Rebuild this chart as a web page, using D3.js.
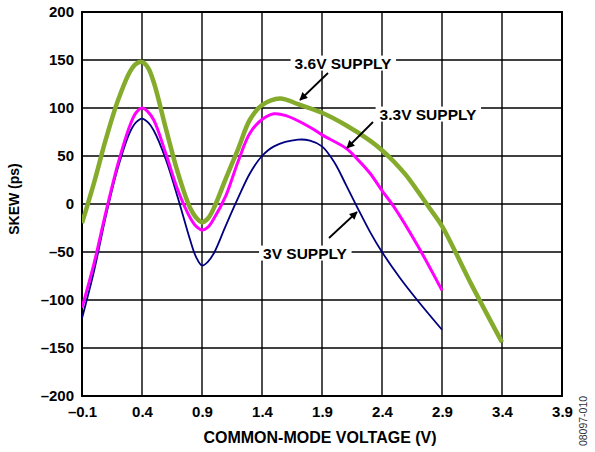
<!DOCTYPE html>
<html><head><meta charset="utf-8">
<script src="https://cdn.jsdelivr.net/npm/d3@7"></script>
<style>body{margin:0;background:#fff}svg{display:block}text{font-family:"Liberation Sans",Arial,sans-serif}</style>
</head><body>
<svg id="c" width="595" height="452"></svg>
<script>
const xTicks = [-0.1, 0.4, 0.9, 1.4, 1.9, 2.4, 2.9, 3.4, 3.9];
const yTicks = [-200, -150, -100, -50, 0, 50, 100, 150, 200];
const xTitle = "COMMON-MODE VOLTAGE (V)";
const yTitle = "SKEW (ps)";
const seriesNames = ["3V SUPPLY", "3.3V SUPPLY", "3.6V SUPPLY"];

const v3x = [-0.1,0.0,0.1,0.2,0.3,0.35,0.4,0.45,0.5,0.6,0.7,0.8,0.85,0.9,0.95,1.0,1.1,1.2,1.3,1.4,1.5,1.7,1.8,1.9,2.0,2.1,2.2,2.3,2.4,2.55,2.7,2.9];
const v3y = [-119,-70,-12,38,75,85,89,85,76,46,6,-37,-55,-64,-60,-51,-22,6,32,50,60,67,66,60,44,20,-5,-29,-50,-77,-101,-131];

const v33x = [-0.1,0.0,0.1,0.2,0.3,0.35,0.4,0.45,0.5,0.6,0.7,0.8,0.85,0.9,0.95,1.0,1.1,1.2,1.3,1.4,1.5,1.6,1.8,1.9,2.1,2.2,2.3,2.4,2.5,2.7,2.9];
const v33y = [-108,-62,-8,42,82,95,100,96,87,52,14,-14,-23,-27,-24,-15,9,44,74,88,94,92,80,72,58,46,32,14,-3,-44,-90];

const v36x = [-0.1,0.0,0.1,0.2,0.3,0.35,0.4,0.45,0.5,0.6,0.7,0.8,0.85,0.9,0.95,1.0,1.1,1.2,1.3,1.4,1.55,1.7,1.9,2.1,2.3,2.4,2.5,2.6,2.7,2.8,2.9,3.15,3.4];
const v36y = [-20,22,68,108,138,146,148,142,126,78,32,-4,-14,-19,-15,-4,27,57,88,103,110,104,95,82,66,56,44,30,13,-5,-23,-85,-144];

const svg = d3.select("#c");
const L = 82, R = 562, T = 12, B = 396;
const x = d3.scaleLinear().domain([-0.1, 3.9]).range([L, R]);
const y = d3.scaleLinear().domain([-200, 200]).range([B, T]);
const fmt = v => (v < 0 ? "\u2013" : "") + Math.abs(v);
const fmtX = v => (v < 0 ? "\u2013" : "") + Math.abs(v).toFixed(1);

const g = svg.append("g");
g.selectAll(".vx").data(xTicks).join("line")
  .attr("x1", d => x(d)).attr("x2", d => x(d)).attr("y1", T).attr("y2", B)
  .attr("stroke", "#000").attr("stroke-width", 1.4);
g.selectAll(".hy").data(yTicks).join("line")
  .attr("y1", d => y(d)).attr("y2", d => y(d)).attr("x1", L).attr("x2", R)
  .attr("stroke", "#000").attr("stroke-width", 1.4);
svg.append("rect").attr("x", L).attr("y", T).attr("width", R - L).attr("height", B - T)
  .attr("fill", "none").attr("stroke", "#000").attr("stroke-width", 2);

const ax = svg.append("g").attr("transform", `translate(0,${B})`)
  .call(d3.axisBottom(x).tickValues(xTicks).tickFormat(fmtX).tickSize(0).tickPadding(10));
ax.select(".domain").remove();
ax.selectAll("text").attr("font-size", 15).attr("font-weight", "bold").attr("fill", "#000")
  .attr("font-family", '"Liberation Sans",Arial,sans-serif');
const ay = svg.append("g").attr("transform", `translate(${L},0)`)
  .call(d3.axisLeft(y).tickValues(yTicks).tickFormat(fmt).tickSize(0).tickPadding(8));
ay.select(".domain").remove();
ay.selectAll("text").attr("font-size", 15).attr("font-weight", "bold").attr("fill", "#000")
  .attr("font-family", '"Liberation Sans",Arial,sans-serif');

svg.append("text").attr("x", 320).attr("y", 443).attr("text-anchor", "middle")
  .attr("font-size", 16).attr("font-weight", "bold").text(xTitle);
svg.append("text").attr("transform", "translate(19,199) rotate(-90)").attr("text-anchor", "middle")
  .attr("font-size", 14).attr("font-weight", "bold").text(yTitle);
svg.append("text").attr("transform", "translate(587,421) rotate(-90)").attr("text-anchor", "middle")
  .attr("font-size", 10.5).attr("fill", "#333").text("08097-010");

const line = d3.line().x(d => x(d[0])).y(d => y(d[1])).curve(d3.curveCatmullRom.alpha(0.5));
const series = [
  {xs: v3x, ys: v3y, color: "#000080", w: 1.8},
  {xs: v33x, ys: v33y, color: "#ff00ff", w: 3},
  {xs: v36x, ys: v36y, color: "#84ab2c", w: 4.5}
];
svg.append("clipPath").attr("id", "pc").append("rect")
  .attr("x", L).attr("y", T).attr("width", R - L).attr("height", B - T);
series.forEach(s => {
  svg.append("path").datum(s.xs.map((v, i) => [v, s.ys[i]]))
    .attr("d", line).attr("fill", "none").attr("stroke", s.color)
    .attr("stroke-width", s.w).attr("stroke-linejoin", "round").attr("clip-path", "url(#pc)");
});

const defs = svg.append("defs");
defs.append("marker").attr("id", "ah").attr("viewBox", "0 0 10 10").attr("refX", 9).attr("refY", 5)
  .attr("markerWidth", 10).attr("markerHeight", 8).attr("markerUnits", "userSpaceOnUse").attr("orient", "auto")
  .append("path").attr("d", "M0,0 L10,5 L0,10 z").attr("fill", "#000");
const ann = [
  {t: seriesNames[2], tx: 343, ty: 63, x1: 328, y1: 73, x2: 300, y2: 100},
  {t: seriesNames[1], tx: 428, ty: 114, x1: 373, y1: 122, x2: 347, y2: 148},
  {t: seriesNames[0], tx: 305, ty: 253, x1: 329, y1: 238, x2: 357, y2: 212}
];
ann.forEach(a => {
  const t = svg.append("text").attr("x", a.tx).attr("y", a.ty).attr("dy", "0.36em")
    .attr("text-anchor", "middle").attr("font-size", 15.5).attr("font-weight", "bold").text(a.t);
  const bb = t.node().getBBox();
  svg.insert("rect", () => t.node()).attr("x", bb.x - 4).attr("y", bb.y + 1).attr("width", bb.width + 8)
    .attr("height", bb.height - 2).attr("fill", "#fff");
  svg.append("line").attr("x1", a.x1).attr("y1", a.y1).attr("x2", a.x2).attr("y2", a.y2)
    .attr("stroke", "#000").attr("stroke-width", 1.8).attr("marker-end", "url(#ah)");
});
</script>
</body></html>
